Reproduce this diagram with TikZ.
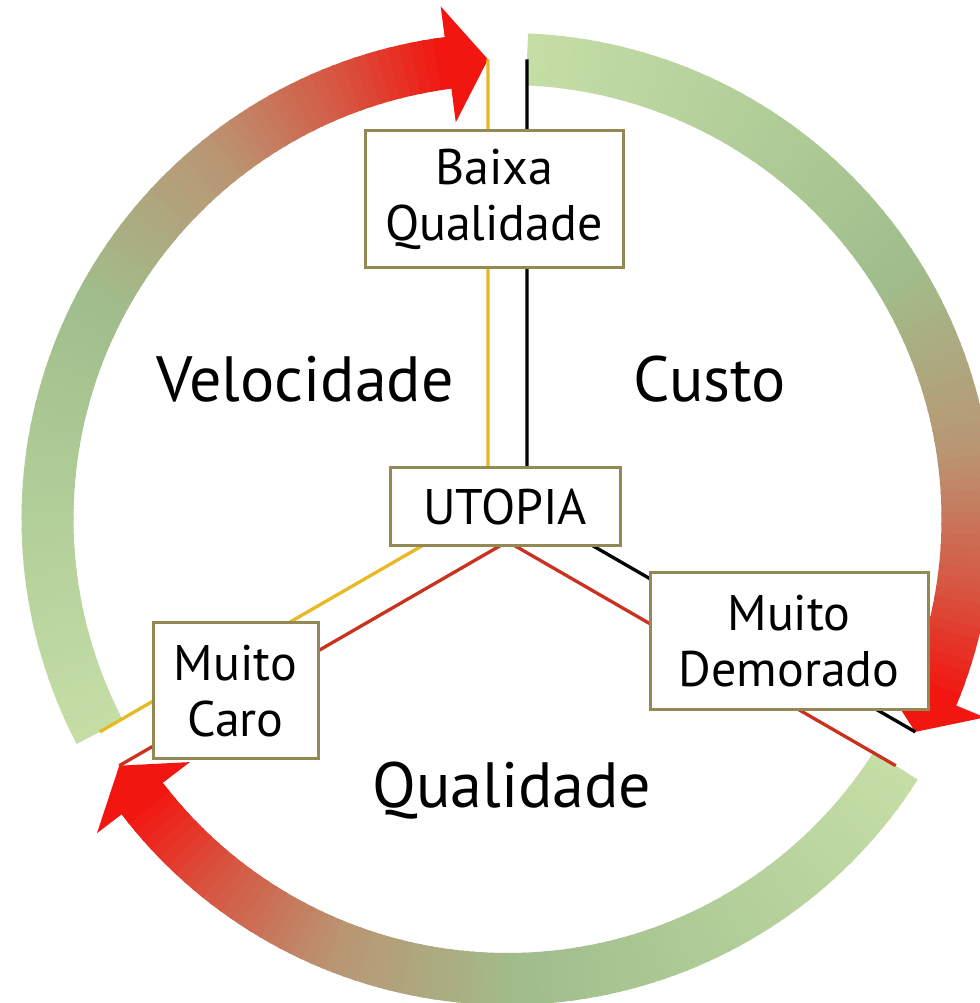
\documentclass[tikz,border=0pt]{standalone}
\usepackage{fontspec}
\setmainfont{PT Sans}

\definecolor{ringA}{RGB}{197,222,166}
\definecolor{ringB}{RGB}{160,190,140}
\definecolor{ringC}{RGB}{185,150,115}
\definecolor{ringD}{RGB}{215,85,65}
\definecolor{ringE}{RGB}{242,22,17}
\definecolor{boxline}{RGB}{147,137,83}
\definecolor{yline}{RGB}{232,185,35}
\definecolor{rline}{RGB}{200,50,30}

\tikzset{
    tradebox/.style = {draw=boxline, fill=white, line width=3pt, rectangle, inner sep=0pt, align=center, font=\fontsize{50}{56}\selectfont},
    bigword/.style = {anchor=base, font=\fontsize{64}{70}\selectfont},
    divider/.style = {line width=3.3pt},
}

% colour of the ring at position #1 (0 = green start, 1 = red end)
\newcommand\ringshade[1]{%
  \pgfmathsetmacro\rs{#1}%
  \ifdim\rs pt<0.5pt
    \pgfmathsetmacro\rp{\rs/0.5*100}\colorlet{seg}{ringB!\rp!ringA}%
  \else\ifdim\rs pt<0.72pt
    \pgfmathsetmacro\rp{(\rs-0.5)/0.22*100}\colorlet{seg}{ringC!\rp!ringB}%
  \else\ifdim\rs pt<0.88pt
    \pgfmathsetmacro\rp{(\rs-0.72)/0.16*100}\colorlet{seg}{ringD!\rp!ringC}%
  \else
    \pgfmathsetmacro\rp{(\rs-0.88)/0.12*100}\colorlet{seg}{ringE!\rp!ringD}%
  \fi\fi\fi}

\begin{document}
\begin{tikzpicture}[x=1pt,y=1pt]
\useasboundingbox (0,0) rectangle (979,1003);
\coordinate (C) at (507.5,484);

% the three shaded arrows of the ring
\foreach \s in {87.57,-32.43,-152.43} {
  \foreach \k in {0,...,79} {
    \pgfmathsetmacro\aone{\s-\k*110.14/80}
    \pgfmathsetmacro\atwo{\aone-110.14/80-0.3}
    \ringshade{\k/79}
    \fill[seg] ([shift={(C)}]\aone:434) arc[start angle=\aone, end angle=\atwo, radius=434]
      -- ([shift={(C)}]\atwo:486) arc[start angle=\atwo, end angle=\aone, radius=486] -- cycle;
  }
  \pgfmathsetmacro\abase{\s-110.14}
  \pgfmathsetmacro\atip{\s-115.14}
  \fill[ringE] ([shift={(C)}]\abase:400) -- ([shift={(C)}]\atip:460) -- ([shift={(C)}]\abase:517) -- cycle;
}

% dividing lines
\coordinate (Y) at ([shift={(C)}]150:22.5);
\coordinate (K) at ([shift={(C)}]30:22.5);
\coordinate (R) at ([shift={(C)}]270:22.5);
\coordinate (yt) at ([shift={(C)}]92.43:460);
\coordinate (yl) at ([shift={(C)}]207.57:460);
\coordinate (kt) at ([shift={(C)}]87.57:460);
\coordinate (kr) at ([shift={(C)}]-27.57:460);
\coordinate (rl) at ([shift={(C)}]212.43:460);
\coordinate (rr) at ([shift={(C)}]-32.43:460);
\draw[divider, yline] (yt) -- (Y) -- (yl);
\draw[divider, black] (kt) -- (K) -- (kr);
\draw[divider, rline] (rl) -- (R) -- (rr);

% boxes
\node[tradebox, minimum width=258, minimum height=137] (baixa) at (494,803.5) {Baixa\\Qualidade};
\node[tradebox, minimum width=230, minimum height=78] (utopia) at (505,496) {UTOPIA};
\node[tradebox, minimum width=165, minimum height=136] (caro) at (235.5,312) {Muito\\Caro};
\node[tradebox, minimum width=278, minimum height=137] (demorado) at (789,361.5) {Muito\\Demorado};

% sector names
\node[bigword] (vel) at (305,601) {Velocidade};
\node[bigword] (custo) at (710,601) {Custo};
\node[bigword] (qual) at (512,195) {Qualidade};
\end{tikzpicture}
\end{document}
